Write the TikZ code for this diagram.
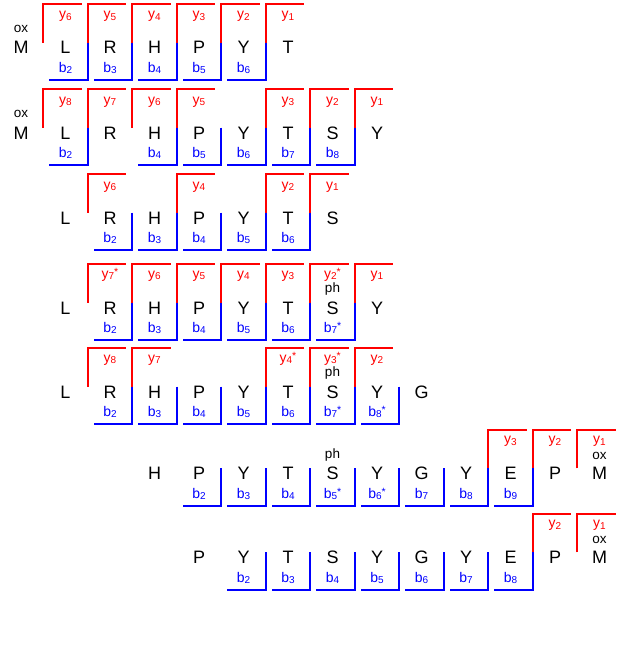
\documentclass[tikz,border=0pt]{standalone}
\usepackage{fontspec}
\setmainfont{Liberation Sans}
\newcommand{\fraglab}[3]{#1\raisebox{-1.2pt}{\fontsize{10}{10}\selectfont #2}\raisebox{3pt}{\fontsize{10.5}{10.5}\selectfont #3}}

\begin{document}
\begin{tikzpicture}[x=1pt, y=-1pt,
    res/.style={font=\fontsize{18}{18}\selectfont, anchor=base, inner sep=0pt},
    modif/.style={font=\fontsize{13.5}{13.5}\selectfont, anchor=base, inner sep=0pt},
    ylab/.style={red, font=\fontsize{14}{14}\selectfont, anchor=base, inner sep=0pt},
    blab/.style={blue, font=\fontsize{14}{14}\selectfont, anchor=base, inner sep=0pt},
    yline/.style={red, line width=1.8pt},
    bline/.style={blue, line width=1.8pt}]
    \useasboundingbox (0,0) rectangle (621,669);

    % Row 1: oxM L R H P Y T
    \begin{scope}[yshift=-42.7pt]
        \foreach \k/\a in {1/M,2/L,3/R,4/H,5/P,6/Y,7/T}
            \node[res] (a1-\k) at ({44.5*\k-23.5}, 11.3) {\a};
        \node[modif] (ox1) at (21, -10) {ox};
        \foreach \c/\n/\m in {1/6/{},2/5/{},3/4/{},4/3/{},5/2/{},6/1/{}}{
            \draw[yline] ({44.5*\c-1.25}, 0) -- ++(0,-38.5) -- ++(38.5,0);
            \node[ylab] (y1-\c) at ({44.5*\c+21}, -23.7) {\fraglab{y}{\n}{\m}};
        }
        \foreach \c/\n/\m in {2/2/{},3/3/{},4/4/{},5/5/{},6/6/{}}{
            \draw[bline] ({44.5*\c-1.25}, 0) -- ++(0,37.5) -- ++(-38.5,0);
            \node[blab] (b1-\c) at ({44.5*\c-23.5}, 30) {\fraglab{b}{\n}{\m}};
        }
    \end{scope}

    % Row 2: oxM L R H P Y T S Y
    \begin{scope}[yshift=-127.7pt]
        \foreach \k/\a in {1/M,2/L,3/R,4/H,5/P,6/Y,7/T,8/S,9/Y}
            \node[res] (a2-\k) at ({44.5*\k-23.5}, 11.3) {\a};
        \node[modif] (ox2) at (21, -10) {ox};
        \foreach \c/\n/\m in {1/8/{},2/7/{},3/6/{},4/5/{},6/3/{},7/2/{},8/1/{}}{
            \draw[yline] ({44.5*\c-1.25}, 0) -- ++(0,-38.5) -- ++(38.5,0);
            \node[ylab] (y2-\c) at ({44.5*\c+21}, -23.7) {\fraglab{y}{\n}{\m}};
        }
        \foreach \c/\n/\m in {2/2/{},4/4/{},5/5/{},6/6/{},7/7/{},8/8/{}}{
            \draw[bline] ({44.5*\c-1.25}, 0) -- ++(0,37.5) -- ++(-38.5,0);
            \node[blab] (b2-\c) at ({44.5*\c-23.5}, 30) {\fraglab{b}{\n}{\m}};
        }
    \end{scope}

    % Row 3: L R H P Y T S
    \begin{scope}[yshift=-212.7pt]
        \foreach \k/\a in {2/L,3/R,4/H,5/P,6/Y,7/T,8/S}
            \node[res] (a3-\k) at ({44.5*\k-23.5}, 11.3) {\a};
        \foreach \c/\n/\m in {2/6/{},4/4/{},6/2/{},7/1/{}}{
            \draw[yline] ({44.5*\c-1.25}, 0) -- ++(0,-38.5) -- ++(38.5,0);
            \node[ylab] (y3-\c) at ({44.5*\c+21}, -23.7) {\fraglab{y}{\n}{\m}};
        }
        \foreach \c/\n/\m in {3/2/{},4/3/{},5/4/{},6/5/{},7/6/{}}{
            \draw[bline] ({44.5*\c-1.25}, 0) -- ++(0,37.5) -- ++(-38.5,0);
            \node[blab] (b3-\c) at ({44.5*\c-23.5}, 30) {\fraglab{b}{\n}{\m}};
        }
    \end{scope}

    % Row 4: L R H P Y T phS Y
    \begin{scope}[yshift=-302.7pt]
        \foreach \k/\a in {2/L,3/R,4/H,5/P,6/Y,7/T,8/S,9/Y}
            \node[res] (a4-\k) at ({44.5*\k-23.5}, 11.3) {\a};
        \node[modif] (ph4) at (332.5, -10) {ph};
        \foreach \c/\n/\m in {2/7/*,3/6/{},4/5/{},5/4/{},6/3/{},7/2/*,8/1/{}}{
            \draw[yline] ({44.5*\c-1.25}, 0) -- ++(0,-38.5) -- ++(38.5,0);
            \node[ylab] (y4-\c) at ({44.5*\c+21}, -24.5) {\fraglab{y}{\n}{\m}};
        }
        \foreach \c/\n/\m in {3/2/{},4/3/{},5/4/{},6/5/{},7/6/{},8/7/*}{
            \draw[bline] ({44.5*\c-1.25}, 0) -- ++(0,37.5) -- ++(-38.5,0);
            \node[blab] (b4-\c) at ({44.5*\c-23.5}, 30) {\fraglab{b}{\n}{\m}};
        }
    \end{scope}

    % Row 5: L R H P Y T phS Y G
    \begin{scope}[yshift=-386.7pt]
        \foreach \k/\a in {2/L,3/R,4/H,5/P,6/Y,7/T,8/S,9/Y,10/G}
            \node[res] (a5-\k) at ({44.5*\k-23.5}, 11.3) {\a};
        \node[modif] (ph5) at (332.5, -10) {ph};
        \foreach \c/\n/\m in {2/8/{},3/7/{},6/4/*,7/3/*,8/2/{}}{
            \draw[yline] ({44.5*\c-1.25}, 0) -- ++(0,-38.5) -- ++(38.5,0);
            \node[ylab] (y5-\c) at ({44.5*\c+21}, -24.5) {\fraglab{y}{\n}{\m}};
        }
        \foreach \c/\n/\m in {3/2/{},4/3/{},5/4/{},6/5/{},7/6/{},8/7/*,9/8/*}{
            \draw[bline] ({44.5*\c-1.25}, 0) -- ++(0,37.5) -- ++(-38.5,0);
            \node[blab] (b5-\c) at ({44.5*\c-23.5}, 30) {\fraglab{b}{\n}{\m}};
        }
    \end{scope}

    % Row 6: H P Y T phS Y G Y E P oxM
    \begin{scope}[yshift=-468.3pt]
        \foreach \k/\a in {4/H,5/P,6/Y,7/T,8/S,9/Y,10/G,11/Y,12/E,13/P,14/M}
            \node[res] (a6-\k) at ({44.5*\k-23.5}, 11.3) {\a};
        \node[modif] (ph6) at (332.5, -10) {ph};
        \node[modif] (ox6) at (599.5, -9) {ox};
        \foreach \c/\n/\m in {11/3/{},12/2/{},13/1/{}}{
            \draw[yline] ({44.5*\c-1.25}, 0) -- ++(0,-38.5) -- ++(38.5,0);
            \node[ylab] (y6-\c) at ({44.5*\c+21}, -24.5) {\fraglab{y}{\n}{\m}};
        }
        \foreach \c/\n/\m in {5/2/{},6/3/{},7/4/{},8/5/*,9/6/*,10/7/{},11/8/{},12/9/{}}{
            \draw[bline] ({44.5*\c-1.25}, 0) -- ++(0,37.5) -- ++(-38.5,0);
            \node[blab] (b6-\c) at ({44.5*\c-23.5}, 30) {\fraglab{b}{\n}{\m}};
        }
    \end{scope}

    % Row 7: P Y T S Y G Y E P oxM
    \begin{scope}[yshift=-552.3pt]
        \foreach \k/\a in {5/P,6/Y,7/T,8/S,9/Y,10/G,11/Y,12/E,13/P,14/M}
            \node[res] (a7-\k) at ({44.5*\k-23.5}, 11.3) {\a};
        \node[modif] (ox7) at (599.5, -9) {ox};
        \foreach \c/\n/\m in {12/2/{},13/1/{}}{
            \draw[yline] ({44.5*\c-1.25}, 0) -- ++(0,-38.5) -- ++(38.5,0);
            \node[ylab] (y7-\c) at ({44.5*\c+21}, -24.5) {\fraglab{y}{\n}{\m}};
        }
        \foreach \c/\n/\m in {6/2/{},7/3/{},8/4/{},9/5/{},10/6/{},11/7/{},12/8/{}}{
            \draw[bline] ({44.5*\c-1.25}, 0) -- ++(0,37.5) -- ++(-38.5,0);
            \node[blab] (b7-\c) at ({44.5*\c-23.5}, 30) {\fraglab{b}{\n}{\m}};
        }
    \end{scope}
\end{tikzpicture}
\end{document}
